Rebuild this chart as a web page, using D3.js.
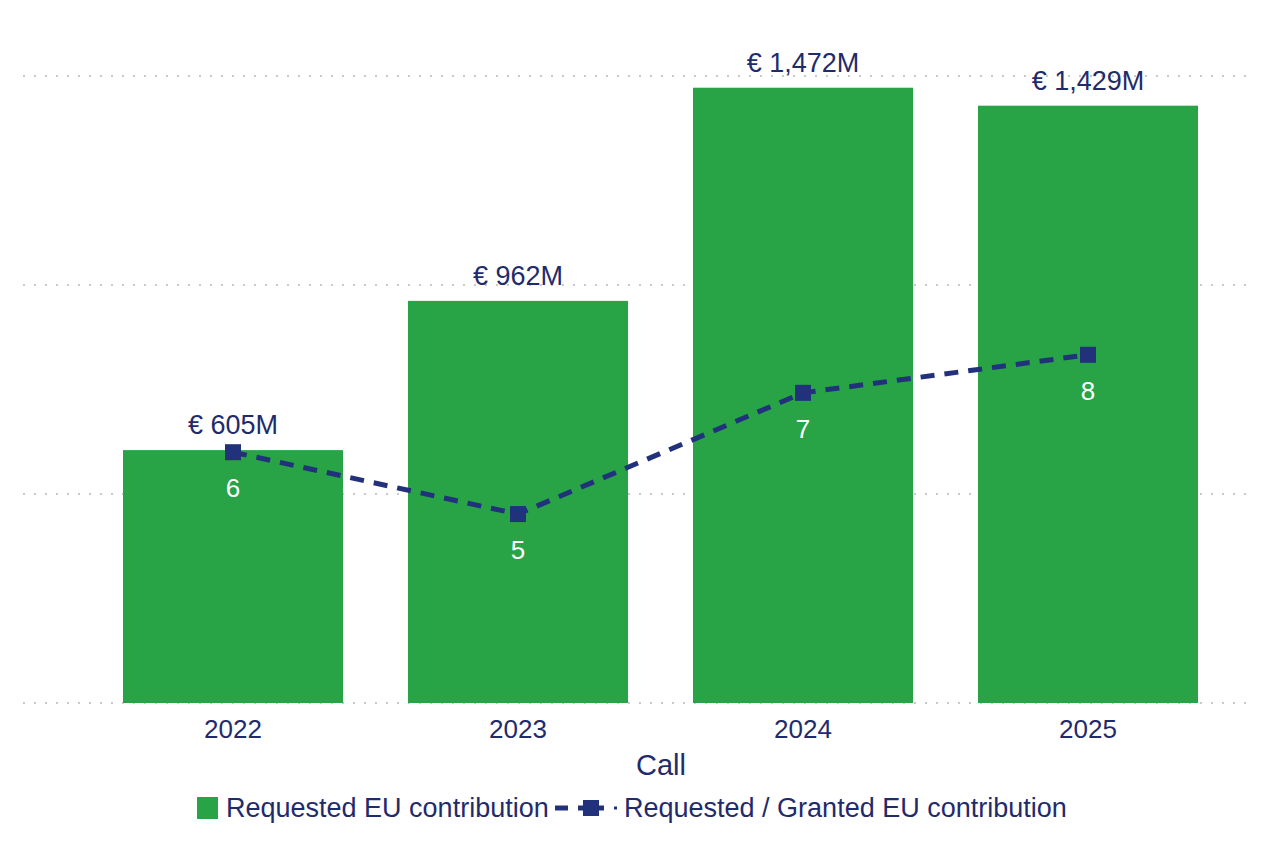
<!DOCTYPE html>
<html>
<head>
<meta charset="utf-8">
<script src="https://cdn.jsdelivr.net/npm/d3@7"></script>
<style>
  body { margin: 0; background: #fff; }
  svg { display: block; font-family: "Liberation Sans", Arial, sans-serif; }
</style>
</head>
<body>
<svg id="chart" width="1264" height="848"></svg>
<script>
// data
const calls = ["2022", "2023", "2024", "2025"];
const requested = [605, 962, 1472, 1429];          // € million
const ratio = [6.0, 4.52, 7.42, 8.33];             // requested / granted
const ratioLabels = ["6", "5", "7", "8"];
const gridTicks = [0, 500, 1000, 1500];

const green = "#28a345";
const navy = "#22317c";
const textColor = "#1f2b6b";

const svg = d3.select("#chart");

const baseline = 703;
const x = d3.scaleBand()
    .domain(calls)
    .range([90.5, 1230.5])
    .paddingInner(0.228)
    .paddingOuter(0.114);

const y = d3.scaleLinear()
    .domain([0, 1500])
    .range([baseline, 76]);

const y2 = d3.scaleLinear()
    .domain([0, 15])
    .range([baseline, 76]);

// dotted gridlines
svg.append("g")
    .selectAll("line")
    .data(gridTicks)
    .enter().append("line")
    .attr("x1", 24)
    .attr("x2", 1246)
    .attr("y1", d => y(d))
    .attr("y2", d => y(d))
    .attr("stroke", "#b8b8b8")
    .attr("stroke-width", 2)
    .attr("stroke-linecap", "round")
    .attr("stroke-dasharray", "0 11");

// bars
svg.append("g")
    .selectAll("rect")
    .data(requested)
    .enter().append("rect")
    .attr("x", (d, i) => x(calls[i]))
    .attr("y", d => y(d))
    .attr("width", x.bandwidth())
    .attr("height", d => baseline - y(d))
    .attr("fill", green);

// bar value labels
svg.append("g")
    .selectAll("text")
    .data(requested)
    .enter().append("text")
    .attr("x", (d, i) => x(calls[i]) + x.bandwidth() / 2)
    .attr("y", d => y(d) - 16)
    .attr("text-anchor", "middle")
    .attr("font-size", 27)
    .attr("fill", textColor)
    .text(d => "€ " + d3.format(",")(d) + "M");

// x axis labels
const xAxis = svg.append("g")
    .attr("transform", `translate(0,${baseline})`)
    .call(d3.axisBottom(x).tickSize(0).tickPadding(14));
xAxis.select(".domain").remove();
xAxis.selectAll("text")
    .attr("dy", null)
    .attr("y", 35)
    .attr("font-size", 26)
    .attr("font-family", "Liberation Sans, Arial, sans-serif")
    .attr("fill", textColor);

svg.append("text")
    .attr("x", 661)
    .attr("y", 775)
    .attr("text-anchor", "middle")
    .attr("font-size", 29)
    .attr("fill", textColor)
    .text("Call");

// ratio line
const cx = (d, i) => x(calls[i]) + x.bandwidth() / 2;
const line = d3.line()
    .x(cx)
    .y(d => y2(d));

svg.append("path")
    .datum(ratio)
    .attr("d", line)
    .attr("fill", "none")
    .attr("stroke", navy)
    .attr("stroke-width", 5)
    .attr("stroke-dasharray", "14 10");

svg.append("g")
    .selectAll("rect")
    .data(ratio)
    .enter().append("rect")
    .attr("x", (d, i) => cx(d, i) - 8)
    .attr("y", d => y2(d) - 8)
    .attr("width", 16)
    .attr("height", 16)
    .attr("fill", navy);

svg.append("g")
    .selectAll("text")
    .data(ratio)
    .enter().append("text")
    .attr("x", cx)
    .attr("y", d => y2(d) + 45)
    .attr("text-anchor", "middle")
    .attr("font-size", 26)
    .attr("fill", "#fff")
    .text((d, i) => ratioLabels[i]);

// legend
const legend = svg.append("g").attr("transform", "translate(0,808)");
legend.append("rect")
    .attr("x", 197).attr("y", -11)
    .attr("width", 21).attr("height", 22)
    .attr("fill", green);
legend.append("text")
    .attr("x", 226).attr("y", 9)
    .attr("font-size", 27)
    .attr("fill", textColor)
    .text("Requested EU contribution");
legend.append("line")
    .attr("x1", 555).attr("x2", 568)
    .attr("y1", 0).attr("y2", 0)
    .attr("stroke", navy).attr("stroke-width", 5);
legend.append("line")
    .attr("x1", 578).attr("x2", 604)
    .attr("y1", 0).attr("y2", 0)
    .attr("stroke", navy).attr("stroke-width", 5);
legend.append("rect")
    .attr("x", 583).attr("y", -8)
    .attr("width", 16).attr("height", 16)
    .attr("fill", navy);
legend.append("line")
    .attr("x1", 614).attr("x2", 617)
    .attr("y1", 0).attr("y2", 0)
    .attr("stroke", navy).attr("stroke-width", 3);
legend.append("text")
    .attr("x", 624).attr("y", 9)
    .attr("font-size", 27)
    .attr("fill", textColor)
    .text("Requested / Granted EU contribution");
</script>
</body>
</html>
